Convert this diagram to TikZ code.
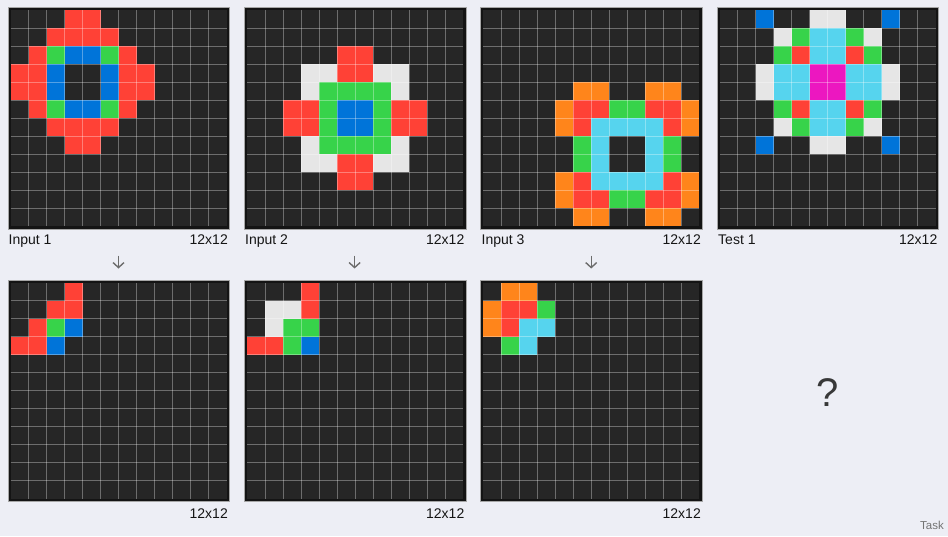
\documentclass[tikz,border=0pt]{standalone}
\usepackage{fontspec}
\setmainfont{Liberation Sans}
\usetikzlibrary{arrows.meta}
\definecolor{bgc}{HTML}{EDEEF5}
\definecolor{cellbg}{HTML}{262626}
\definecolor{framec}{HTML}{141414}
\definecolor{arcR}{HTML}{FF4136}
\definecolor{arcB}{HTML}{0074D9}
\definecolor{arcG}{HTML}{37D34A}
\definecolor{arcO}{HTML}{FF851B}
\definecolor{arcC}{HTML}{56D4EE}
\definecolor{arcM}{HTML}{EC17C0}
\definecolor{arcW}{HTML}{E6E6E6}
\definecolor{txt}{HTML}{151515}
\makeatletter
\newcount\ARC@col
\def\ARC@parse#1{\ifx#1\relax\else\ARC@cell#1\advance\ARC@col by 1 \expandafter\ARC@parse\fi}
\def\ARC@cell#1{\if#10\else\fill[arc#1] ({\ARC@gx+2.75+18*\the\ARC@col},{\ARC@gy+2.75+18*\ARC@r}) rectangle +(18,18);\fi}
\newcommand\ARCgrid[4]{% name, gx, gy, rows
  \node[gridframe] (#1) at ({#2+110.75},{#3+110.75}) {};
  \fill[cellbg] ({#2+2.75},{#3+2.75}) rectangle +(216,216);
  \def\ARC@gx{#2}\def\ARC@gy{#3}%
  \foreach \s [count=\rr from 0] in {#4}{%
    \ARC@col=0 \edef\ARC@r{\rr}\expandafter\ARC@parse\s\relax}%
  \foreach \i in {1,...,11}{%
    \draw[gridline] ({#2+2.75+18*\i},{#3+2.75}) -- ++(0,216);
    \draw[gridline] ({#2+2.75},{#3+2.75+18*\i}) -- ++(216,0);}%
}
\makeatother
\tikzset{
  gridframe/.style={rectangle, minimum width=221.5pt, minimum height=221.5pt, inner sep=0pt,
    fill=framec, draw=gray!70, line width=0.4pt},
  gridline/.style={draw=white, opacity=0.33, line width=0.8pt},
  lbl/.style={font=\fontsize{14}{16}\selectfont, text=txt, inner sep=0pt},
  arr/.style={draw=gray!85!black, line width=1.4pt, -{Straight Barb[length=5pt,width=11pt,line width=1.4pt]}},
}
\begin{document}
\begin{tikzpicture}[x={(1pt,0)}, y={(0,-1pt)}]
\fill[bgc] (0,0) rectangle (948,536);
\useasboundingbox (0,0) rectangle (948,536);
% Input 1
\ARCgrid{in1}{7.8}{7.5}{000RR0000000,00RRRR000000,0RGBBGR00000,RRB00BRR0000,RRB00BRR0000,0RGBBGR00000,00RRRR000000,000RR0000000,000000000000,000000000000,000000000000,000000000000}
% Input 2
\ARCgrid{in2}{244.2}{7.5}{000000000000,000000000000,00000RR00000,000WWRRWW000,000WGGGGW000,00RRGBBGRR00,00RRGBBGRR00,000WGGGGW000,000WWRRWW000,00000RR00000,000000000000,000000000000}
% Input 3
\ARCgrid{in3}{480.6}{7.5}{000000000000,000000000000,000000000000,000000000000,00000OO00OO0,0000ORRGGRRO,0000ORCCCCRO,00000GC00CG0,00000GC00CG0,0000ORCCCCRO,0000ORRGGRRO,00000OO00OO0}
% Test 1
\ARCgrid{te1}{717.0}{7.5}{00B00WW00B00,000WGCCGW000,000GRCCRG000,00WCCMMCCW00,00WCCMMCCW00,000GRCCRG000,000WGCCGW000,00B00WW00B00,000000000000,000000000000,000000000000,000000000000}
% Outputs
\ARCgrid{out1}{7.8}{280}{000R00000000,00RR00000000,0RGB00000000,RRB000000000,000000000000,000000000000,000000000000,000000000000,000000000000,000000000000,000000000000,000000000000}
\ARCgrid{out2}{244.2}{280}{000R00000000,0WWR00000000,0WGG00000000,RRGB00000000,000000000000,000000000000,000000000000,000000000000,000000000000,000000000000,000000000000,000000000000}
\ARCgrid{out3}{480.6}{280}{0OO000000000,ORRG00000000,ORCC00000000,0GC000000000,000000000000,000000000000,000000000000,000000000000,000000000000,000000000000,000000000000,000000000000}
% labels
\node[lbl, anchor=base west] (lin1) at (8.5,244.5) {Input 1};
\node[lbl, anchor=base east] (sin1) at (228,244.5) {12x12};
\node[lbl, anchor=base west] (lin2) at (245,244.5) {Input 2};
\node[lbl, anchor=base east] (sin2) at (464.5,244.5) {12x12};
\node[lbl, anchor=base west] (lin3) at (481.5,244.5) {Input 3};
\node[lbl, anchor=base east] (sin3) at (701,244.5) {12x12};
\node[lbl, anchor=base west] (lte1) at (718,244.5) {Test 1};
\node[lbl, anchor=base east] (ste1) at (937.5,244.5) {12x12};
\node[lbl, anchor=base east] (sout1) at (228,518) {12x12};
\node[lbl, anchor=base east] (sout2) at (464.5,518) {12x12};
\node[lbl, anchor=base east] (sout3) at (701,518) {12x12};
% arrows
\coordinate (a1s) at (118.5,255.5); \coordinate (a1e) at (118.5,268.5);
\coordinate (a2s) at (354.6,255.5); \coordinate (a2e) at (354.6,268.5);
\coordinate (a3s) at (591.2,255.5); \coordinate (a3e) at (591.2,268.5);
\draw[arr] (a1s) -- (a1e);
\draw[arr] (a2s) -- (a2e);
\draw[arr] (a3s) -- (a3e);
% question mark and task
\node[inner sep=0pt, anchor=base, text=txt!85!white, font=\fontsize{40}{44}\selectfont] (q) at (828,406) {?};
\node[inner sep=0pt, anchor=base east, text=gray!90!black, font=\fontsize{11.5}{13}\selectfont] (task) at (944,529) {Task};
\end{tikzpicture}
\end{document}
